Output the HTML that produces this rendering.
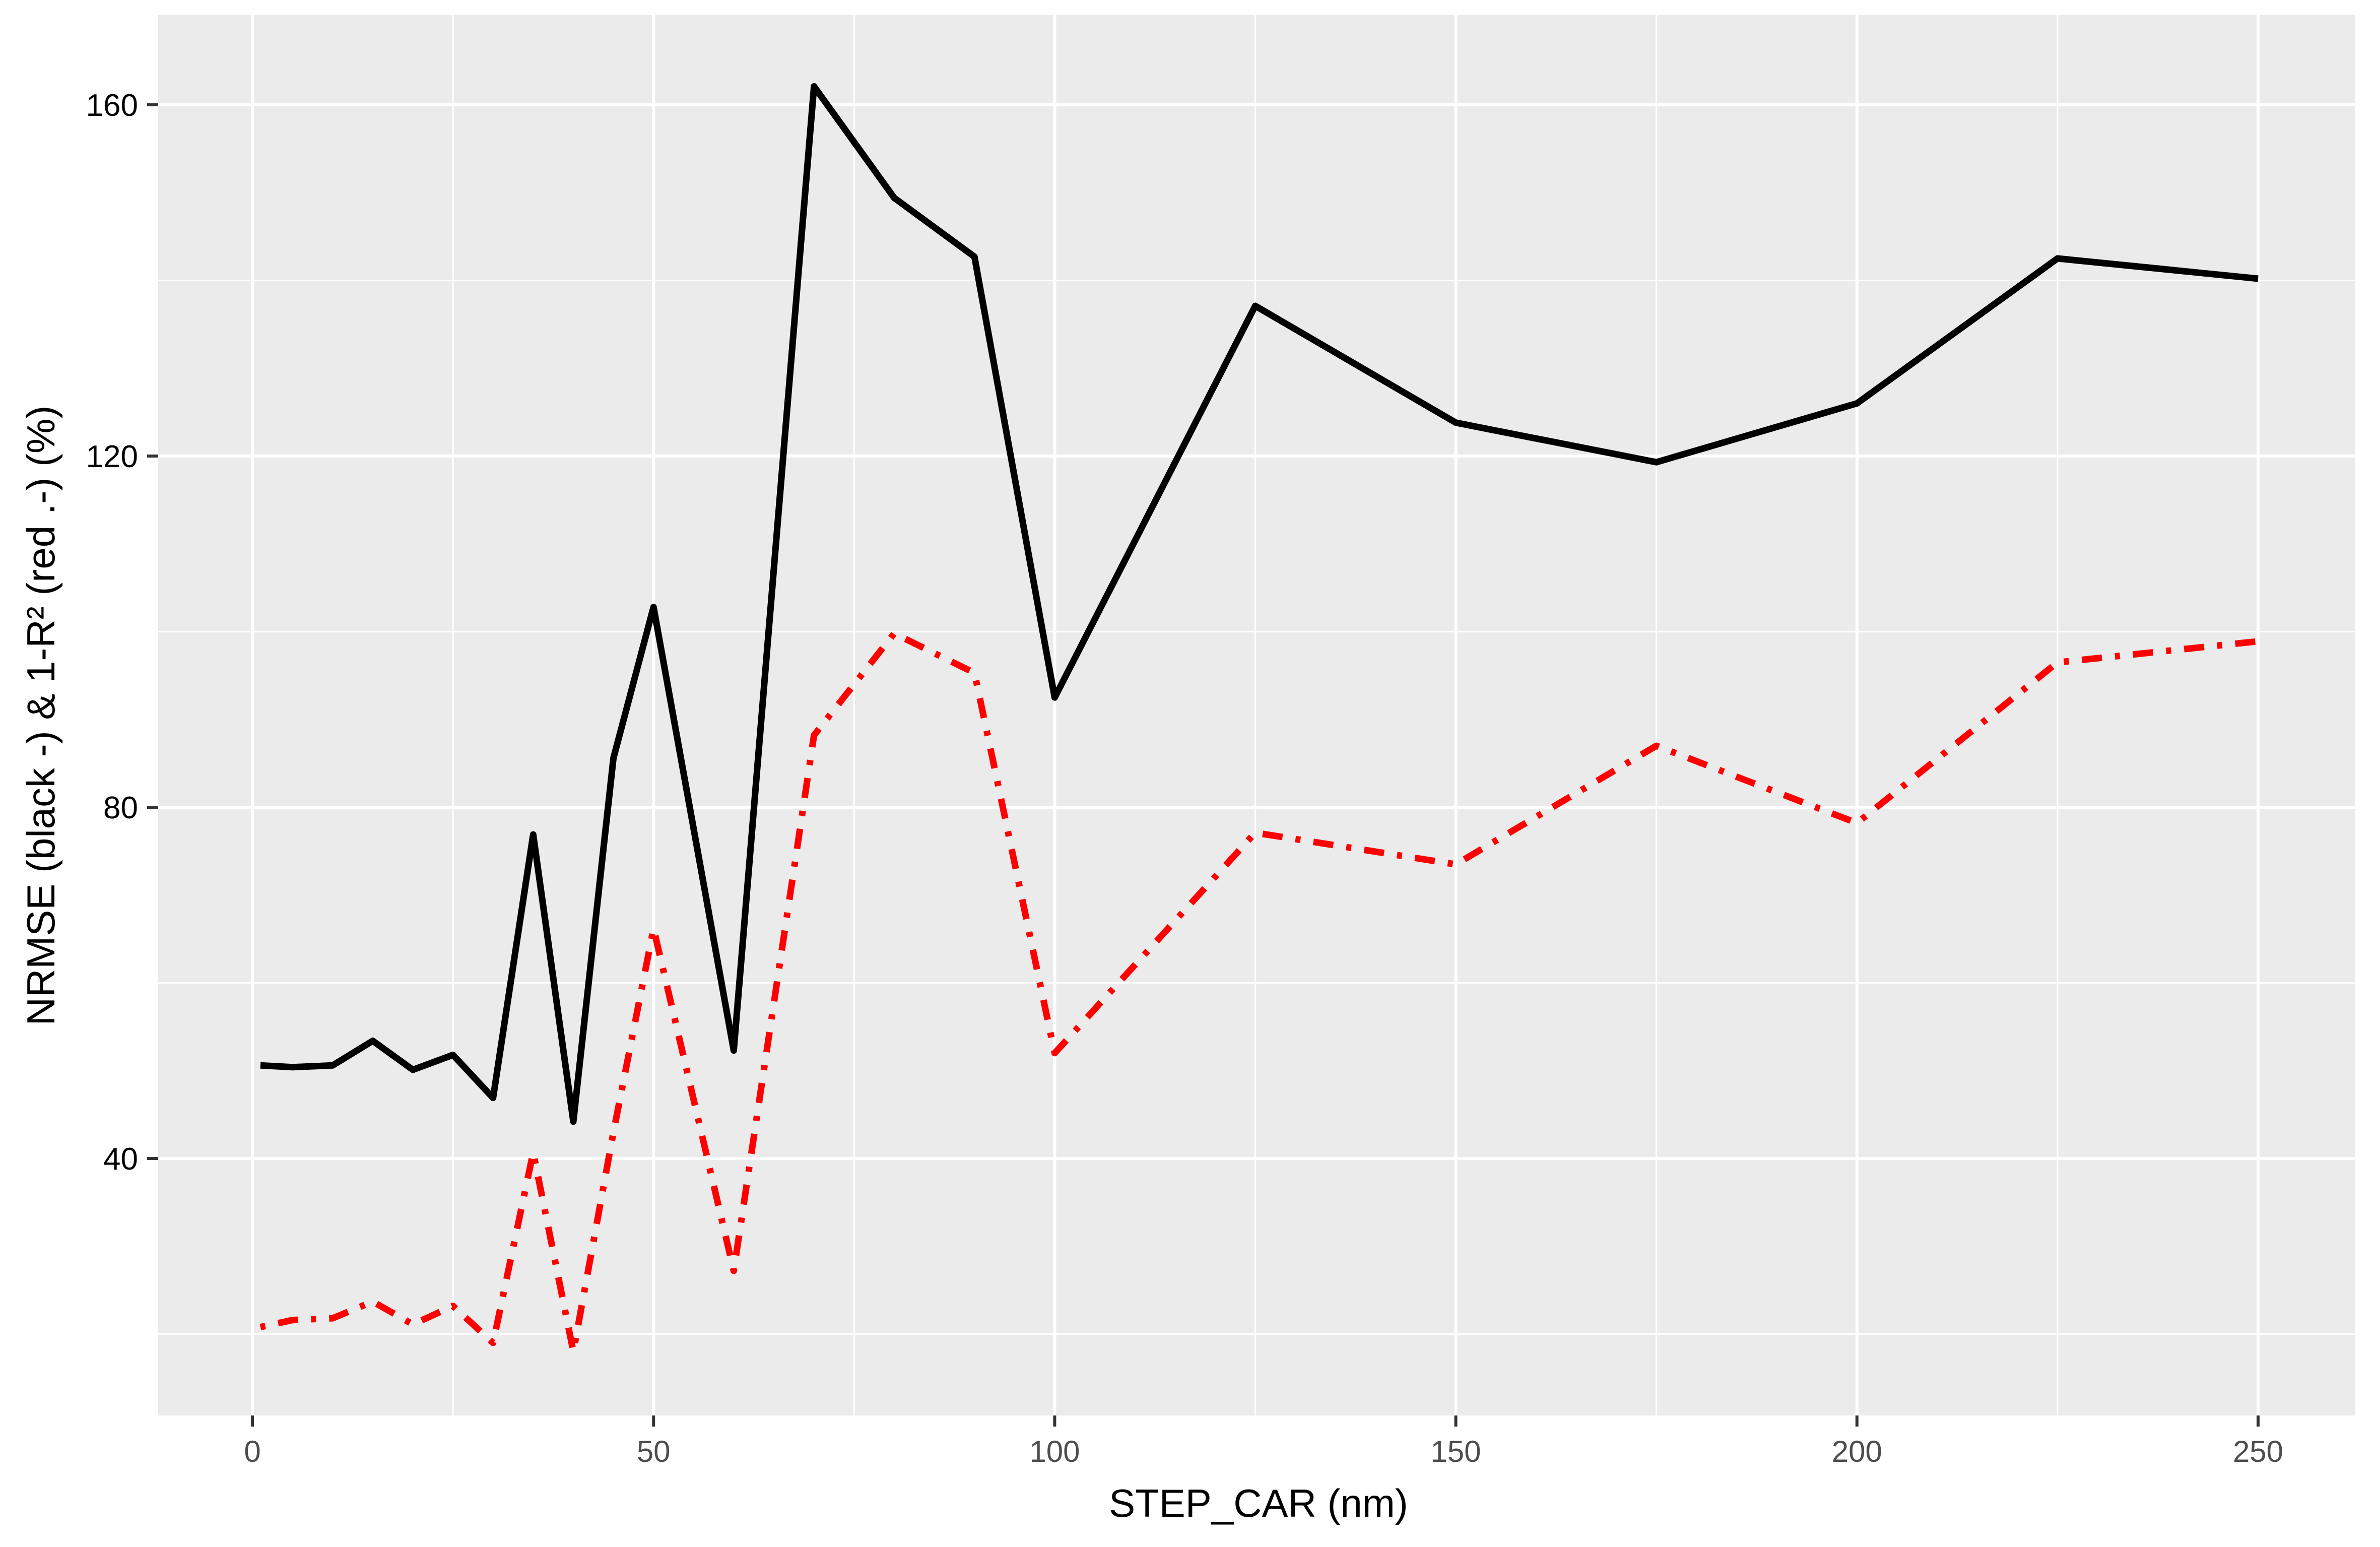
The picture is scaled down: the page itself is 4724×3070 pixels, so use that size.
<!DOCTYPE html>
<html><head><meta charset="utf-8"><style>
html,body{margin:0;padding:0;background:#fff;}
svg{display:block;font-family:"Liberation Sans",Arial,sans-serif;}
</style></head><body>
<svg id="chart" width="4724" height="3070" viewBox="0 0 4724 3070" xmlns="http://www.w3.org/2000/svg">
<rect x="0" y="0" width="4724" height="3070" fill="#fff"/>
<rect x="314" y="30" width="4360" height="2779" fill="#ebebeb"/>
<g id="grid"></g>
<g id="series"></g>
<g id="axes"></g>
<text x="2498" y="3010" font-size="78" text-anchor="middle" fill="#000">STEP_CAR (nm)</text>
<text transform="translate(108,1420) rotate(-90)" font-size="78" text-anchor="middle" fill="#000">NRMSE (black -) &amp; 1-R² (red .-) (%)</text>
</svg>
<script>
const xValues = [1,5,10,15,20,25,30,35,40,45,50,60,70,80,90,100,125,150,175,200,225,250];
const nrmseValues = [50.6,50.4,50.6,53.4,50.1,51.8,46.9,76.9,44.2,85.6,102.8,52.3,162.1,149.4,142.7,92.5,137.1,123.8,119.3,126.0,142.5,140.2];
const oneMinusR2Values = [20.8,21.6,21.8,23.7,21.1,23.2,19.0,40.7,18.0,43.0,66.2,27.2,88.2,99.8,95.3,52.0,77.1,73.5,87.0,78.2,96.5,98.9];
const xTicks = [0,50,100,150,200,250];
const xMinor = [25,75,125,175,225];
const yTicks = [40,80,120,160];
const yMinor = [20,60,100,140];

const PL=314, PR=4674, PT=30, PB=2809;
function sx(v){ return 501 + (v-0)*(4482-501)/250; }
function sy(v){ return 2299 - (v-40)*(2299-208)/120; }
const NS="http://www.w3.org/2000/svg";
function mk(parent,tag,attrs){ const e=document.createElementNS(NS,tag); for(const k in attrs) e.setAttribute(k,attrs[k]); parent.appendChild(e); return e; }
const grid=document.getElementById('grid'), series=document.getElementById('series'), axes=document.getElementById('axes');

yMinor.forEach(v=>{ const l=mk(grid,'line',{x1:PL,x2:PR,y1:sy(v),y2:sy(v),stroke:'#fff','stroke-width':3});

 });
xMinor.forEach(v=>{ const l=mk(grid,'line',{x1:sx(v),x2:sx(v),y1:PT,y2:PB,stroke:'#fff','stroke-width':3});

 });
yTicks.forEach(v=>{ const l=mk(grid,'line',{x1:PL,x2:PR,y1:sy(v),y2:sy(v),stroke:'#fff','stroke-width':6});


const t=mk(axes,'line',{x1:PL-22,x2:PL,y1:sy(v),y2:sy(v),stroke:'#333','stroke-width':6});


const tx=mk(axes,'text',{x:PL-40,y:sy(v)+22,'font-size':62,'text-anchor':'end',fill:'#000'});
tx.textContent=v;

 });
xTicks.forEach(v=>{ const l=mk(grid,'line',{x1:sx(v),x2:sx(v),y1:PT,y2:PB,stroke:'#fff','stroke-width':6});


const t=mk(axes,'line',{x1:sx(v),x2:sx(v),y1:PB,y2:PB+22,stroke:'#333','stroke-width':6});


const tx=mk(axes,'text',{x:sx(v),y:PB+92,'font-size':60,'text-anchor':'middle',fill:'#4d4d4d'});
tx.textContent=v;

 });

function pts(ys){ return xValues.map((x,i)=>sx(x).toFixed(1)+','+sy(ys[i]).toFixed(1)).join(' '); }
const red=mk(series,'polyline',{points:pts(oneMinusR2Values),fill:'none',stroke:'#ff0000','stroke-width':13,'stroke-dasharray':'10 26 40 26','stroke-linejoin':'round'});


const blk=mk(series,'polyline',{points:pts(nrmseValues),fill:'none',stroke:'#000','stroke-width':13,'stroke-linejoin':'round'});


</script>
</body></html>
